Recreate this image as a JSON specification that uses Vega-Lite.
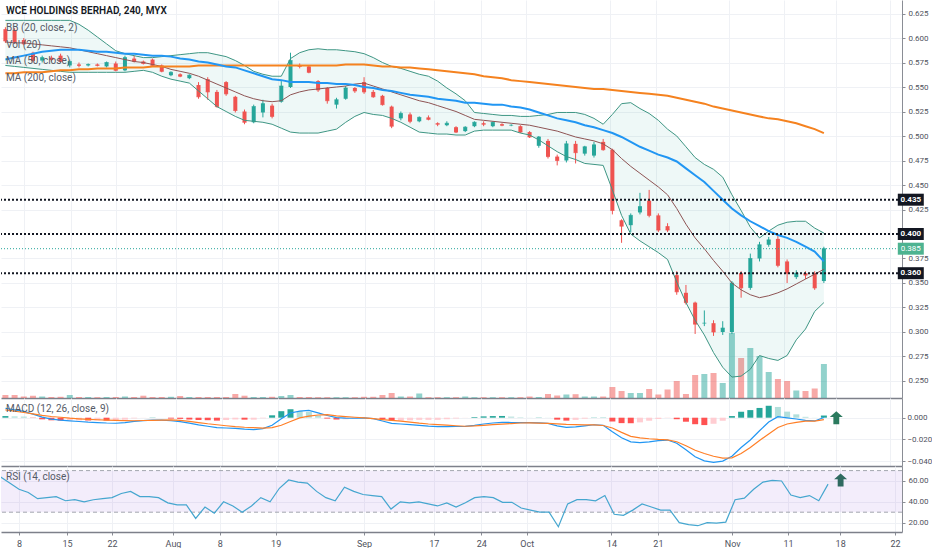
{
  "$schema": "https://vega.github.io/schema/vega-lite/v6.json",
  "autosize": {"type": "pad"},
  "padding": 0,
  "background": "white",
  "spacing": 0,
  "bounds": "flush",
  "config": {
    "font": "Roboto",
    "view": {"stroke": null},
    "axis": {
      "labelFont": "Roboto",
      "labelFontSize": 8,
      "labelColor": "#50535e",
      "gridColor": "#eff1f5",
      "domainColor": "#8a8d95",
      "tickColor": "#8a8d95",
      "title": null
    },
    "title": {
      "anchor": "start",
      "frame": "group",
      "font": "Roboto",
      "fontSize": 10,
      "fontWeight": "normal",
      "color": "#555a66",
      "subtitleFont": "Roboto",
      "subtitleFontSize": 10,
      "subtitleColor": "#555a66",
      "dx": 5
    }
  },
  "datasets": {
    "bars": [
      {"i":-2,"o":0.609,"h":0.611,"l":0.595,"c":0.597,"v":300,"bu":0.618,"bm":0.596,"bl":0.572,"m50":0.578,"m200":0.564,"macd":0.0087,"sig":0.0072,"hist":0.0015,"rsi":64},
      {"i":-1,"o":0.608,"h":0.610,"l":0.594,"c":0.596,"v":300,"bu":0.618,"bm":0.595,"bl":0.571,"m50":0.580,"m200":0.564,"macd":0.0072,"sig":0.0060,"hist":0.0012,"rsi":58},
      {"i":0,"o":0.598,"h":0.600,"l":0.593,"c":0.594,"v":150,"bu":0.618,"bm":0.595,"bl":0.570,"m50":0.582,"m200":0.565,"macd":0.0058,"sig":0.0048,"hist":0.0010,"rsi":52},
      {"i":1,"o":0.585,"h":0.586,"l":0.575,"c":0.577,"v":230,"bu":0.618,"bm":0.594,"bl":0.569,"m50":0.584,"m200":0.565,"macd":0.0033,"sig":0.0035,"hist":-0.0002,"rsi":49},
      {"i":2,"o":0.577,"h":0.582,"l":0.575,"c":0.580,"v":150,"bu":0.618,"bm":0.593,"bl":0.568,"m50":0.586,"m200":0.565,"macd":0.0006,"sig":0.0021,"hist":-0.0015,"rsi":43},
      {"i":3,"o":0.580,"h":0.582,"l":0.576,"c":0.578,"v":100,"bu":0.618,"bm":0.592,"bl":0.567,"m50":0.587,"m200":0.566,"macd":-0.0013,"sig":0.0011,"hist":-0.0024,"rsi":44},
      {"i":4,"o":0.582,"h":0.584,"l":0.575,"c":0.576,"v":120,"bu":0.618,"bm":0.591,"bl":0.566,"m50":0.588,"m200":0.567,"macd":-0.0023,"sig":0.0004,"hist":-0.0027,"rsi":45},
      {"i":5,"o":0.572,"h":0.578,"l":0.570,"c":0.576,"v":300,"bu":0.618,"bm":0.590,"bl":0.565,"m50":0.588,"m200":0.567,"macd":-0.0029,"sig":-0.0004,"hist":-0.0025,"rsi":41},
      {"i":6,"o":0.573,"h":0.575,"l":0.570,"c":0.572,"v":100,"bu":0.614,"bm":0.588,"bl":0.565,"m50":0.588,"m200":0.568,"macd":-0.0035,"sig":-0.0010,"hist":-0.0025,"rsi":42},
      {"i":7,"o":0.572,"h":0.574,"l":0.571,"c":0.573,"v":100,"bu":0.608,"bm":0.586,"bl":0.565,"m50":0.587,"m200":0.568,"macd":-0.0041,"sig":-0.0015,"hist":-0.0026,"rsi":40},
      {"i":8,"o":0.573,"h":0.574,"l":0.571,"c":0.572,"v":80,"bu":0.601,"bm":0.584,"bl":0.565,"m50":0.586,"m200":0.569,"macd":-0.0045,"sig":-0.0019,"hist":-0.0026,"rsi":42},
      {"i":9,"o":0.571,"h":0.576,"l":0.570,"c":0.575,"v":100,"bu":0.594,"bm":0.582,"bl":0.565,"m50":0.586,"m200":0.569,"macd":-0.0049,"sig":-0.0022,"hist":-0.0027,"rsi":43},
      {"i":10,"o":0.574,"h":0.576,"l":0.566,"c":0.567,"v":100,"bu":0.587,"bm":0.580,"bl":0.565,"m50":0.585,"m200":0.569,"macd":-0.0051,"sig":-0.0025,"hist":-0.0026,"rsi":44},
      {"i":11,"o":0.567,"h":0.582,"l":0.566,"c":0.580,"v":150,"bu":0.584,"bm":0.578,"bl":0.565,"m50":0.584,"m200":0.570,"macd":-0.0045,"sig":-0.0027,"hist":-0.0018,"rsi":48},
      {"i":12,"o":0.579,"h":0.582,"l":0.575,"c":0.576,"v":100,"bu":0.582,"bm":0.576,"bl":0.566,"m50":0.584,"m200":0.570,"macd":-0.0034,"sig":-0.0028,"hist":-0.0006,"rsi":50},
      {"i":13,"o":0.576,"h":0.577,"l":0.573,"c":0.574,"v":230,"bu":0.580,"bm":0.575,"bl":0.567,"m50":0.583,"m200":0.570,"macd":-0.0027,"sig":-0.0026,"hist":-0.0001,"rsi":45},
      {"i":14,"o":0.578,"h":0.579,"l":0.571,"c":0.572,"v":100,"bu":0.580,"bm":0.573,"bl":0.565,"m50":0.582,"m200":0.571,"macd":-0.0022,"sig":-0.0024,"hist":0.0002,"rsi":45},
      {"i":15,"o":0.572,"h":0.573,"l":0.565,"c":0.566,"v":100,"bu":0.581,"bm":0.571,"bl":0.561,"m50":0.582,"m200":0.571,"macd":-0.0022,"sig":-0.0022,"hist":0.0000,"rsi":44},
      {"i":16,"o":0.562,"h":0.566,"l":0.561,"c":0.565,"v":120,"bu":0.582,"bm":0.568,"bl":0.558,"m50":0.581,"m200":0.571,"macd":-0.0028,"sig":-0.0020,"hist":-0.0008,"rsi":39},
      {"i":17,"o":0.563,"h":0.564,"l":0.560,"c":0.561,"v":200,"bu":0.583,"bm":0.566,"bl":0.556,"m50":0.579,"m200":0.571,"macd":-0.0036,"sig":-0.0025,"hist":-0.0011,"rsi":37},
      {"i":18,"o":0.559,"h":0.563,"l":0.558,"c":0.562,"v":100,"bu":0.584,"bm":0.564,"bl":0.554,"m50":0.578,"m200":0.571,"macd":-0.0050,"sig":-0.0033,"hist":-0.0017,"rsi":37},
      {"i":19,"o":0.552,"h":0.555,"l":0.538,"c":0.540,"v":100,"bu":0.585,"bm":0.561,"bl":0.546,"m50":0.576,"m200":0.572,"macd":-0.0066,"sig":-0.0045,"hist":-0.0021,"rsi":24},
      {"i":20,"o":0.558,"h":0.560,"l":0.537,"c":0.545,"v":100,"bu":0.585,"bm":0.557,"bl":0.538,"m50":0.575,"m200":0.572,"macd":-0.0079,"sig":-0.0056,"hist":-0.0023,"rsi":35},
      {"i":21,"o":0.545,"h":0.547,"l":0.529,"c":0.530,"v":100,"bu":0.583,"bm":0.553,"bl":0.530,"m50":0.573,"m200":0.572,"macd":-0.0092,"sig":-0.0065,"hist":-0.0027,"rsi":29},
      {"i":22,"o":0.555,"h":0.556,"l":0.541,"c":0.543,"v":100,"bu":0.581,"bm":0.549,"bl":0.525,"m50":0.571,"m200":0.572,"macd":-0.0095,"sig":-0.0074,"hist":-0.0021,"rsi":40},
      {"i":23,"o":0.540,"h":0.541,"l":0.524,"c":0.526,"v":400,"bu":0.577,"bm":0.545,"bl":0.520,"m50":0.570,"m200":0.572,"macd":-0.0098,"sig":-0.0082,"hist":-0.0016,"rsi":36},
      {"i":24,"o":0.525,"h":0.527,"l":0.512,"c":0.514,"v":230,"bu":0.572,"bm":0.541,"bl":0.516,"m50":0.567,"m200":0.572,"macd":-0.0106,"sig":-0.0088,"hist":-0.0018,"rsi":30},
      {"i":25,"o":0.514,"h":0.532,"l":0.513,"c":0.530,"v":100,"bu":0.566,"bm":0.538,"bl":0.515,"m50":0.564,"m200":0.572,"macd":-0.0110,"sig":-0.0092,"hist":-0.0018,"rsi":36},
      {"i":26,"o":0.524,"h":0.537,"l":0.519,"c":0.533,"v":100,"bu":0.563,"bm":0.536,"bl":0.514,"m50":0.561,"m200":0.572,"macd":-0.0101,"sig":-0.0096,"hist":-0.0005,"rsi":44},
      {"i":27,"o":0.531,"h":0.533,"l":0.518,"c":0.520,"v":120,"bu":0.561,"bm":0.535,"bl":0.512,"m50":0.558,"m200":0.572,"macd":-0.0070,"sig":-0.0092,"hist":0.0022,"rsi":40},
      {"i":28,"o":0.535,"h":0.556,"l":0.534,"c":0.551,"v":200,"bu":0.561,"bm":0.536,"bl":0.508,"m50":0.557,"m200":0.572,"macd":-0.0010,"sig":-0.0070,"hist":0.0060,"rsi":53},
      {"i":29,"o":0.550,"h":0.585,"l":0.549,"c":0.577,"v":300,"bu":0.579,"bm":0.542,"bl":0.504,"m50":0.555,"m200":0.572,"macd":0.0043,"sig":-0.0035,"hist":0.0078,"rsi":61},
      {"i":30,"o":0.572,"h":0.574,"l":0.569,"c":0.571,"v":100,"bu":0.585,"bm":0.545,"bl":0.503,"m50":0.555,"m200":0.572,"macd":0.0060,"sig":-0.0002,"hist":0.0062,"rsi":59},
      {"i":31,"o":0.571,"h":0.572,"l":0.564,"c":0.565,"v":100,"bu":0.588,"bm":0.547,"bl":0.503,"m50":0.555,"m200":0.572,"macd":0.0068,"sig":0.0015,"hist":0.0053,"rsi":58},
      {"i":32,"o":0.556,"h":0.557,"l":0.545,"c":0.547,"v":80,"bu":0.589,"bm":0.548,"bl":0.503,"m50":0.554,"m200":0.572,"macd":0.0045,"sig":0.0025,"hist":0.0020,"rsi":50},
      {"i":33,"o":0.549,"h":0.550,"l":0.533,"c":0.536,"v":80,"bu":0.588,"bm":0.549,"bl":0.505,"m50":0.554,"m200":0.572,"macd":0.0020,"sig":0.0028,"hist":-0.0008,"rsi":44},
      {"i":34,"o":0.532,"h":0.539,"l":0.528,"c":0.537,"v":80,"bu":0.588,"bm":0.550,"bl":0.507,"m50":0.553,"m200":0.572,"macd":0.0000,"sig":0.0017,"hist":-0.0017,"rsi":41},
      {"i":35,"o":0.538,"h":0.551,"l":0.537,"c":0.549,"v":80,"bu":0.587,"bm":0.551,"bl":0.514,"m50":0.553,"m200":0.573,"macd":-0.0004,"sig":0.0010,"hist":-0.0014,"rsi":54},
      {"i":36,"o":0.549,"h":0.550,"l":0.544,"c":0.546,"v":80,"bu":0.586,"bm":0.553,"bl":0.520,"m50":0.552,"m200":0.573,"macd":-0.0005,"sig":0.0004,"hist":-0.0009,"rsi":50},
      {"i":37,"o":0.555,"h":0.560,"l":0.543,"c":0.545,"v":120,"bu":0.584,"bm":0.554,"bl":0.524,"m50":0.550,"m200":0.573,"macd":-0.0002,"sig":-0.0002,"hist":0.0000,"rsi":47},
      {"i":38,"o":0.545,"h":0.547,"l":0.539,"c":0.540,"v":120,"bu":0.580,"bm":0.551,"bl":0.522,"m50":0.549,"m200":0.572,"macd":-0.0008,"sig":-0.0008,"hist":0.0000,"rsi":46},
      {"i":39,"o":0.541,"h":0.542,"l":0.531,"c":0.532,"v":300,"bu":0.575,"bm":0.548,"bl":0.521,"m50":0.547,"m200":0.571,"macd":-0.0030,"sig":-0.0017,"hist":-0.0013,"rsi":45},
      {"i":40,"o":0.530,"h":0.531,"l":0.508,"c":0.510,"v":500,"bu":0.571,"bm":0.545,"bl":0.518,"m50":0.546,"m200":0.571,"macd":-0.0052,"sig":-0.0025,"hist":-0.0027,"rsi":33},
      {"i":41,"o":0.518,"h":0.525,"l":0.516,"c":0.523,"v":150,"bu":0.569,"bm":0.542,"bl":0.514,"m50":0.544,"m200":0.570,"macd":-0.0058,"sig":-0.0031,"hist":-0.0027,"rsi":40},
      {"i":42,"o":0.522,"h":0.524,"l":0.513,"c":0.515,"v":150,"bu":0.566,"bm":0.539,"bl":0.509,"m50":0.542,"m200":0.570,"macd":-0.0064,"sig":-0.0040,"hist":-0.0024,"rsi":39},
      {"i":43,"o":0.515,"h":0.520,"l":0.514,"c":0.519,"v":450,"bu":0.563,"bm":0.536,"bl":0.504,"m50":0.541,"m200":0.569,"macd":-0.0070,"sig":-0.0050,"hist":-0.0020,"rsi":40},
      {"i":44,"o":0.519,"h":0.521,"l":0.516,"c":0.517,"v":80,"bu":0.561,"bm":0.534,"bl":0.503,"m50":0.540,"m200":0.568,"macd":-0.0078,"sig":-0.0058,"hist":-0.0020,"rsi":38},
      {"i":45,"o":0.513,"h":0.514,"l":0.510,"c":0.512,"v":80,"bu":0.556,"bm":0.531,"bl":0.502,"m50":0.538,"m200":0.567,"macd":-0.0083,"sig":-0.0063,"hist":-0.0020,"rsi":36},
      {"i":46,"o":0.511,"h":0.515,"l":0.510,"c":0.513,"v":80,"bu":0.549,"bm":0.528,"bl":0.502,"m50":0.537,"m200":0.566,"macd":-0.0082,"sig":-0.0068,"hist":-0.0014,"rsi":39},
      {"i":47,"o":0.509,"h":0.510,"l":0.503,"c":0.504,"v":80,"bu":0.543,"bm":0.525,"bl":0.501,"m50":0.536,"m200":0.565,"macd":-0.0081,"sig":-0.0074,"hist":-0.0007,"rsi":35},
      {"i":48,"o":0.505,"h":0.510,"l":0.504,"c":0.509,"v":150,"bu":0.536,"bm":0.521,"bl":0.501,"m50":0.534,"m200":0.564,"macd":-0.0080,"sig":-0.0079,"hist":-0.0001,"rsi":39},
      {"i":49,"o":0.510,"h":0.515,"l":0.509,"c":0.514,"v":80,"bu":0.524,"bm":0.517,"bl":0.505,"m50":0.534,"m200":0.563,"macd":-0.0070,"sig":-0.0076,"hist":0.0006,"rsi":44},
      {"i":50,"o":0.513,"h":0.515,"l":0.510,"c":0.512,"v":80,"bu":0.523,"bm":0.516,"bl":0.506,"m50":0.533,"m200":0.561,"macd":-0.0058,"sig":-0.0070,"hist":0.0012,"rsi":45},
      {"i":51,"o":0.510,"h":0.515,"l":0.509,"c":0.514,"v":80,"bu":0.522,"bm":0.515,"bl":0.506,"m50":0.532,"m200":0.560,"macd":-0.0049,"sig":-0.0064,"hist":0.0015,"rsi":44},
      {"i":52,"o":0.512,"h":0.513,"l":0.510,"c":0.511,"v":80,"bu":0.521,"bm":0.514,"bl":0.506,"m50":0.532,"m200":0.559,"macd":-0.0043,"sig":-0.0059,"hist":0.0016,"rsi":39.5},
      {"i":53,"o":0.511,"h":0.512,"l":0.510,"c":0.511,"v":80,"bu":0.521,"bm":0.513,"bl":0.506,"m50":0.530,"m200":0.557,"macd":-0.0044,"sig":-0.0054,"hist":0.0010,"rsi":39.5},
      {"i":54,"o":0.510,"h":0.511,"l":0.503,"c":0.504,"v":80,"bu":0.520,"bm":0.512,"bl":0.503,"m50":0.529,"m200":0.556,"macd":-0.0045,"sig":-0.0049,"hist":0.0004,"rsi":34},
      {"i":55,"o":0.504,"h":0.505,"l":0.498,"c":0.499,"v":150,"bu":0.520,"bm":0.511,"bl":0.501,"m50":0.527,"m200":0.555,"macd":-0.0046,"sig":-0.0047,"hist":0.0001,"rsi":32},
      {"i":56,"o":0.490,"h":0.500,"l":0.488,"c":0.499,"v":100,"bu":0.521,"bm":0.509,"bl":0.496,"m50":0.524,"m200":0.554,"macd":-0.0048,"sig":-0.0050,"hist":0.0002,"rsi":30},
      {"i":57,"o":0.495,"h":0.497,"l":0.477,"c":0.479,"v":400,"bu":0.522,"bm":0.507,"bl":0.490,"m50":0.521,"m200":0.553,"macd":-0.0052,"sig":-0.0053,"hist":0.0001,"rsi":30},
      {"i":58,"o":0.479,"h":0.481,"l":0.470,"c":0.475,"v":250,"bu":0.524,"bm":0.505,"bl":0.484,"m50":0.518,"m200":0.552,"macd":-0.0075,"sig":-0.0057,"hist":-0.0018,"rsi":16},
      {"i":59,"o":0.475,"h":0.495,"l":0.473,"c":0.492,"v":350,"bu":0.524,"bm":0.502,"bl":0.479,"m50":0.516,"m200":0.551,"macd":-0.0089,"sig":-0.0062,"hist":-0.0027,"rsi":38},
      {"i":60,"o":0.492,"h":0.495,"l":0.472,"c":0.483,"v":380,"bu":0.524,"bm":0.499,"bl":0.476,"m50":0.514,"m200":0.550,"macd":-0.0084,"sig":-0.0064,"hist":-0.0020,"rsi":42},
      {"i":61,"o":0.482,"h":0.490,"l":0.480,"c":0.489,"v":150,"bu":0.522,"bm":0.497,"bl":0.472,"m50":0.511,"m200":0.549,"macd":-0.0075,"sig":-0.0066,"hist":-0.0009,"rsi":42},
      {"i":62,"o":0.480,"h":0.494,"l":0.478,"c":0.491,"v":150,"bu":0.518,"bm":0.495,"bl":0.471,"m50":0.509,"m200":0.548,"macd":-0.0065,"sig":-0.0067,"hist":0.0002,"rsi":41},
      {"i":63,"o":0.494,"h":0.497,"l":0.485,"c":0.486,"v":150,"bu":0.512,"bm":0.492,"bl":0.470,"m50":0.506,"m200":0.548,"macd":-0.0070,"sig":-0.0072,"hist":0.0002,"rsi":46},
      {"i":64,"o":0.486,"h":0.487,"l":0.420,"c":0.424,"v":1100,"bu":0.522,"bm":0.486,"bl":0.445,"m50":0.503,"m200":0.547,"macd":-0.0130,"sig":-0.0095,"hist":-0.0035,"rsi":28},
      {"i":65,"o":0.414,"h":0.415,"l":0.391,"c":0.408,"v":700,"bu":0.533,"bm":0.477,"bl":0.419,"m50":0.499,"m200":0.546,"macd":-0.0185,"sig":-0.0135,"hist":-0.0050,"rsi":27},
      {"i":66,"o":0.409,"h":0.421,"l":0.402,"c":0.419,"v":500,"bu":0.534,"bm":0.469,"bl":0.400,"m50":0.494,"m200":0.545,"macd":-0.0223,"sig":-0.0172,"hist":-0.0051,"rsi":32},
      {"i":67,"o":0.422,"h":0.442,"l":0.420,"c":0.428,"v":500,"bu":0.528,"bm":0.462,"bl":0.393,"m50":0.489,"m200":0.544,"macd":-0.0229,"sig":-0.0186,"hist":-0.0043,"rsi":38},
      {"i":68,"o":0.434,"h":0.445,"l":0.417,"c":0.419,"v":900,"bu":0.523,"bm":0.455,"bl":0.387,"m50":0.485,"m200":0.543,"macd":-0.0222,"sig":-0.0194,"hist":-0.0028,"rsi":35},
      {"i":69,"o":0.419,"h":0.421,"l":0.402,"c":0.404,"v":350,"bu":0.516,"bm":0.448,"bl":0.381,"m50":0.481,"m200":0.542,"macd":-0.0212,"sig":-0.0200,"hist":-0.0012,"rsi":32},
      {"i":70,"o":0.408,"h":0.411,"l":0.402,"c":0.404,"v":850,"bu":0.507,"bm":0.440,"bl":0.374,"m50":0.478,"m200":0.541,"macd":-0.0206,"sig":-0.0204,"hist":-0.0002,"rsi":32},
      {"i":71,"o":0.358,"h":0.362,"l":0.338,"c":0.341,"v":1700,"bu":0.500,"bm":0.426,"bl":0.351,"m50":0.474,"m200":0.539,"macd":-0.0236,"sig":-0.0222,"hist":-0.0014,"rsi":20},
      {"i":72,"o":0.340,"h":0.348,"l":0.328,"c":0.330,"v":400,"bu":0.489,"bm":0.410,"bl":0.330,"m50":0.467,"m200":0.537,"macd":-0.0295,"sig":-0.0258,"hist":-0.0037,"rsi":18},
      {"i":73,"o":0.330,"h":0.331,"l":0.298,"c":0.308,"v":2300,"bu":0.478,"bm":0.396,"bl":0.312,"m50":0.460,"m200":0.535,"macd":-0.0360,"sig":-0.0300,"hist":-0.0060,"rsi":17},
      {"i":74,"o":0.309,"h":0.322,"l":0.306,"c":0.309,"v":2400,"bu":0.471,"bm":0.385,"bl":0.297,"m50":0.453,"m200":0.533,"macd":-0.0398,"sig":-0.0330,"hist":-0.0068,"rsi":20},
      {"i":75,"o":0.309,"h":0.312,"l":0.296,"c":0.300,"v":2500,"bu":0.466,"bm":0.373,"bl":0.279,"m50":0.444,"m200":0.530,"macd":-0.0411,"sig":-0.0355,"hist":-0.0056,"rsi":19.5},
      {"i":76,"o":0.300,"h":0.311,"l":0.297,"c":0.304,"v":1500,"bu":0.458,"bm":0.362,"bl":0.264,"m50":0.435,"m200":0.528,"macd":-0.0400,"sig":-0.0372,"hist":-0.0028,"rsi":20.5},
      {"i":77,"o":0.300,"h":0.352,"l":0.298,"c":0.350,"v":6500,"bu":0.440,"bm":0.350,"bl":0.254,"m50":0.426,"m200":0.526,"macd":-0.0355,"sig":-0.0370,"hist":0.0015,"rsi":42},
      {"i":78,"o":0.360,"h":0.362,"l":0.335,"c":0.345,"v":4000,"bu":0.424,"bm":0.343,"bl":0.255,"m50":0.419,"m200":0.524,"macd":-0.0275,"sig":-0.0330,"hist":0.0055,"rsi":43.5},
      {"i":79,"o":0.345,"h":0.380,"l":0.343,"c":0.375,"v":5000,"bu":0.407,"bm":0.338,"bl":0.262,"m50":0.413,"m200":0.522,"macd":-0.0205,"sig":-0.0275,"hist":0.0070,"rsi":52},
      {"i":80,"o":0.375,"h":0.392,"l":0.372,"c":0.389,"v":4200,"bu":0.396,"bm":0.335,"bl":0.276,"m50":0.408,"m200":0.520,"macd":-0.0120,"sig":-0.0210,"hist":0.0090,"rsi":59},
      {"i":81,"o":0.389,"h":0.397,"l":0.387,"c":0.394,"v":2600,"bu":0.403,"bm":0.337,"bl":0.273,"m50":0.403,"m200":0.518,"macd":-0.0040,"sig":-0.0150,"hist":0.0110,"rsi":60.5},
      {"i":82,"o":0.395,"h":0.398,"l":0.366,"c":0.368,"v":1900,"bu":0.409,"bm":0.340,"bl":0.271,"m50":0.399,"m200":0.517,"macd":0.0009,"sig":-0.0090,"hist":0.0099,"rsi":60},
      {"i":83,"o":0.372,"h":0.374,"l":0.350,"c":0.360,"v":1700,"bu":0.412,"bm":0.344,"bl":0.276,"m50":0.396,"m200":0.515,"macd":-0.0002,"sig":-0.0058,"hist":0.0056,"rsi":46.5},
      {"i":84,"o":0.356,"h":0.363,"l":0.354,"c":0.360,"v":750,"bu":0.413,"bm":0.349,"bl":0.292,"m50":0.392,"m200":0.513,"macd":-0.0012,"sig":-0.0043,"hist":0.0031,"rsi":44},
      {"i":85,"o":0.360,"h":0.362,"l":0.354,"c":0.358,"v":700,"bu":0.413,"bm":0.354,"bl":0.303,"m50":0.387,"m200":0.510,"macd":-0.0024,"sig":-0.0032,"hist":0.0008,"rsi":46},
      {"i":86,"o":0.360,"h":0.362,"l":0.343,"c":0.345,"v":950,"bu":0.406,"bm":0.359,"bl":0.321,"m50":0.382,"m200":0.507,"macd":-0.0030,"sig":-0.0031,"hist":0.0001,"rsi":41},
      {"i":87,"o":0.352,"h":0.387,"l":0.350,"c":0.385,"v":3400,"bu":0.401,"bm":0.364,"bl":0.330,"m50":0.372,"m200":0.503,"macd":0.0002,"sig":-0.0018,"hist":0.0020,"rsi":57}
    ],
    "levels": [{"p": 0.435}, {"p": 0.400}, {"p": 0.360}],
    "last": [{"p": 0.385}],
    "one": [{}]
  },
  "vconcat": [
    {
      "width": 901,
      "height": 398,
      "title": {
        "text": "WCE HOLDINGS BERHAD, 240, MYX",
        "subtitle": ["BB (20, close, 2)", "Vol (20)", "MA (50, close)", "MA (200, close)"],
        "color": "#131722",
        "fontWeight": 600,
        "offset": -83,
        "subtitlePadding": 7,
        "subtitleLineHeight": 16.7
      },
      "data": {"name": "bars"},
      "resolve": {"scale": {"y": "independent"}},
      "layer": [
        {
          "mark": {"type": "bar", "size": 6, "opacity": 0.5, "clip": true},
          "encoding": {
            "x": {
              "field": "i", "type": "quantitative",
              "scale": {"domain": [-1.935, 94.95], "nice": false, "zero": false},
              "axis": {"values": [0,5.16,10,16.56,21.6,27.6,37.1,44.6,49.7,54.6,63.7,68.7,76.7,82.7,88.3,94.2], "tickCount": 100, "labels": false, "ticks": false, "domainWidth": 1.5, "domainColor": "#7d808a", "grid": true}
            },
            "y": {"field": "v", "type": "quantitative", "scale": {"domain": [0, 39800], "nice": false}, "axis": null},
            "color": {"condition": {"test": "datum.c >= datum.o", "value": "#26a69a"}, "value": "#ef5350"}
          }
        },
        {
          "layer": [
            {
              "mark": {"type": "area", "color": "#26a69a", "opacity": 0.08, "clip": true},
              "encoding": {
                "x": {"field": "i", "type": "quantitative"},
                "y": {
                  "field": "bu", "type": "quantitative",
                  "scale": {"domain": [0.23265, 0.63878], "nice": false, "zero": false},
                  "axis": {"orient": "right", "values": [0.25,0.275,0.3,0.325,0.35,0.375,0.425,0.45,0.475,0.5,0.525,0.55,0.575,0.6,0.625], "tickCount": 100, "format": ".3f", "grid": true, "tickSize": 3, "labelPadding": 3, "labelOverlap": false}
                },
                "y2": {"field": "bl"}
              }
            },
            {
              "mark": {"type": "rule", "strokeWidth": 1, "clip": true},
              "encoding": {
                "x": {"field": "i", "type": "quantitative"},
                "y": {"field": "l", "type": "quantitative"},
                "y2": {"field": "h"},
                "color": {"condition": {"test": "datum.c >= datum.o", "value": "#26a69a"}, "value": "#ef5350"}
              }
            },
            {
              "mark": {"type": "bar", "size": 4, "clip": true},
              "encoding": {
                "x": {"field": "i", "type": "quantitative"},
                "y": {"field": "o", "type": "quantitative"},
                "y2": {"field": "c"},
                "color": {"condition": {"test": "datum.c >= datum.o", "value": "#26a69a"}, "value": "#ef5350"}
              }
            },
            {
              "mark": {"type": "tick", "orient": "horizontal", "size": 4, "thickness": 1, "clip": true},
              "encoding": {
                "x": {"field": "i", "type": "quantitative"},
                "y": {"field": "c", "type": "quantitative"},
                "color": {"condition": {"test": "datum.c >= datum.o", "value": "#26a69a"}, "value": "#ef5350"}
              }
            },
            {
              "mark": {"type": "line", "color": "#3e9684", "strokeWidth": 1, "clip": true},
              "encoding": {"x": {"field": "i", "type": "quantitative"}, "y": {"field": "bu", "type": "quantitative"}}
            },
            {
              "mark": {"type": "line", "color": "#3e9684", "strokeWidth": 1, "clip": true},
              "encoding": {"x": {"field": "i", "type": "quantitative"}, "y": {"field": "bl", "type": "quantitative"}}
            },
            {
              "mark": {"type": "line", "color": "#8e5454", "strokeWidth": 1, "clip": true},
              "encoding": {"x": {"field": "i", "type": "quantitative"}, "y": {"field": "bm", "type": "quantitative"}}
            },
            {
              "mark": {"type": "line", "color": "#f5821f", "strokeWidth": 2, "clip": true},
              "encoding": {"x": {"field": "i", "type": "quantitative"}, "y": {"field": "m200", "type": "quantitative"}}
            },
            {
              "mark": {"type": "line", "color": "#2196f3", "strokeWidth": 2, "clip": true},
              "encoding": {"x": {"field": "i", "type": "quantitative"}, "y": {"field": "m50", "type": "quantitative"}}
            },
            {
              "data": {"name": "last"},
              "mark": {"type": "rule", "color": "#26a69a", "strokeWidth": 1, "strokeDash": [1, 2]},
              "encoding": {"y": {"field": "p", "type": "quantitative"}}
            },
            {
              "data": {"name": "levels"},
              "mark": {"type": "rule", "color": "#131722", "strokeWidth": 2, "strokeDash": [2, 2]},
              "encoding": {"y": {"field": "p", "type": "quantitative"}}
            },
            {
              "data": {"name": "levels"},
              "mark": {"type": "tick", "orient": "horizontal", "size": 26, "thickness": 12, "color": "#131722", "opacity": 1},
              "encoding": {"x": {"datum": 96.45, "type": "quantitative"}, "y": {"field": "p", "type": "quantitative"}}
            },
            {
              "data": {"name": "levels"},
              "mark": {"type": "text", "color": "white", "fontSize": 8, "fontWeight": "bold", "align": "center", "baseline": "middle"},
              "encoding": {"x": {"datum": 96.45, "type": "quantitative"}, "y": {"field": "p", "type": "quantitative"}, "text": {"field": "p", "type": "quantitative", "format": ".3f"}}
            },
            {
              "data": {"name": "last"},
              "mark": {"type": "tick", "orient": "horizontal", "size": 26, "thickness": 12, "color": "#4db391", "opacity": 1},
              "encoding": {"x": {"datum": 96.45, "type": "quantitative"}, "y": {"field": "p", "type": "quantitative"}}
            },
            {
              "data": {"name": "last"},
              "mark": {"type": "text", "color": "white", "fontSize": 8, "align": "center", "baseline": "middle"},
              "encoding": {"x": {"datum": 96.45, "type": "quantitative"}, "y": {"field": "p", "type": "quantitative"}, "text": {"field": "p", "type": "quantitative", "format": ".3f"}}
            }
          ]
        }
      ]
    },
    {
      "width": 901,
      "height": 68,
      "title": {"text": "MACD (12, 26, close, 9)", "offset": -16},
      "data": {"name": "bars"},
      "transform": [
        {"window": [{"op": "lag", "field": "hist", "as": "prev"}], "sort": [{"field": "i"}]},
        {"calculate": "datum.hist >= 0 ? (datum.hist >= datum.prev ? 'ga' : 'fa') : (datum.hist < datum.prev ? 'fb' : 'gb')", "as": "state"}
      ],
      "layer": [
        {
          "mark": {"type": "bar", "size": 6, "clip": true},
          "encoding": {
            "x": {
              "field": "i", "type": "quantitative",
              "scale": {"domain": [-1.935, 94.95], "nice": false, "zero": false},
              "axis": {"values": [0,5.16,10,16.56,21.6,27.6,37.1,44.6,49.7,54.6,63.7,68.7,76.7,82.7,88.3,94.2], "tickCount": 100, "labels": false, "ticks": false, "domainWidth": 1.5, "domainColor": "#7d808a", "grid": true}
            },
            "y": {
              "field": "hist", "type": "quantitative",
              "scale": {"domain": [-0.04452, 0.01816], "nice": false, "zero": false},
              "axis": {"orient": "right", "values": [0, -0.02, -0.04], "tickCount": 100, "format": ".3f", "grid": true, "tickSize": 3, "labelPadding": 2, "labelOverlap": false}
            },
            "y2": {"datum": 0},
            "color": {"field": "state", "type": "nominal", "scale": {"domain": ["ga", "fa", "gb", "fb"], "range": ["#26a69a", "#b2dfdb", "#ffcdd2", "#ff5252"]}, "legend": null}
          }
        },
        {
          "mark": {"type": "line", "color": "#2196f3", "strokeWidth": 1.2, "clip": true},
          "encoding": {"x": {"field": "i", "type": "quantitative"}, "y": {"field": "macd", "type": "quantitative"}}
        },
        {
          "mark": {"type": "line", "color": "#ff7f27", "strokeWidth": 1.2, "clip": true},
          "encoding": {"x": {"field": "i", "type": "quantitative"}, "y": {"field": "sig", "type": "quantitative"}}
        },
        {
          "data": {"name": "one"},
          "mark": {"type": "point", "shape": "M0,-1L1,-0.1L0.45,-0.1L0.45,1L-0.45,1L-0.45,-0.1L-1,-0.1Z", "size": 169, "filled": true, "color": "#2b7a5e", "opacity": 1},
          "encoding": {"x": {"datum": 88.35, "type": "quantitative"}, "y": {"datum": 0, "type": "quantitative"}}
        }
      ]
    },
    {
      "width": 901,
      "height": 66,
      "title": {"text": "RSI (14, close)", "offset": -16},
      "data": {"name": "bars"},
      "layer": [
        {
          "data": {"name": "one"},
          "mark": {"type": "rect", "color": "#9c6ade", "opacity": 0.12},
          "encoding": {
            "y": {
              "datum": 70, "type": "quantitative",
              "scale": {"domain": [10.96, 74.42], "nice": false, "zero": false},
              "axis": {"orient": "right", "values": [20, 40, 60], "tickCount": 100, "format": ".2f", "grid": true, "tickSize": 3, "labelPadding": 3, "labelOverlap": false}
            },
            "y2": {"datum": 30}
          }
        },
        {
          "data": {"name": "one"},
          "mark": {"type": "rule", "color": "#a3a6af", "strokeWidth": 1, "strokeDash": [4, 3]},
          "encoding": {"y": {"datum": 70, "type": "quantitative"}}
        },
        {
          "data": {"name": "one"},
          "mark": {"type": "rule", "color": "#a3a6af", "strokeWidth": 1, "strokeDash": [4, 3]},
          "encoding": {"y": {"datum": 30, "type": "quantitative"}}
        },
        {
          "mark": {"type": "line", "color": "#45a6cf", "strokeWidth": 1.2, "clip": true},
          "encoding": {
            "x": {
              "field": "i", "type": "quantitative",
              "scale": {"domain": [-1.935, 94.95], "nice": false, "zero": false},
              "axis": {
                "values": [0,5.16,10,16.56,21.6,27.6,37.1,44.6,49.7,54.6,63.7,68.7,76.7,82.7,88.3,94.2],
                "tickCount": 100,
                "labelExpr": "['8','15','22','Aug','8','19','Sep','17','24','Oct','14','21','Nov','11','18','22'][indexof([0,5.16,10,16.56,21.6,27.6,37.1,44.6,49.7,54.6,63.7,68.7,76.7,82.7,88.3,94.2], datum.value)]",
                "domainWidth": 1.5, "domainColor": "#7d808a", "grid": true, "ticks": true, "tickSize": 3, "labelPadding": 4, "labelFlush": false, "labelOverlap": false, "labelFontSize": 9
              }
            },
            "y": {"field": "rsi", "type": "quantitative"}
          }
        },
        {
          "data": {"name": "one"},
          "mark": {"type": "point", "shape": "M0,-1L1,-0.1L0.45,-0.1L0.45,1L-0.45,1L-0.45,-0.1L-1,-0.1Z", "size": 169, "filled": true, "color": "#2f6a60", "opacity": 1},
          "encoding": {"x": {"datum": 88.35, "type": "quantitative"}, "y": {"datum": 61, "type": "quantitative"}}
        }
      ]
    }
  ]
}
